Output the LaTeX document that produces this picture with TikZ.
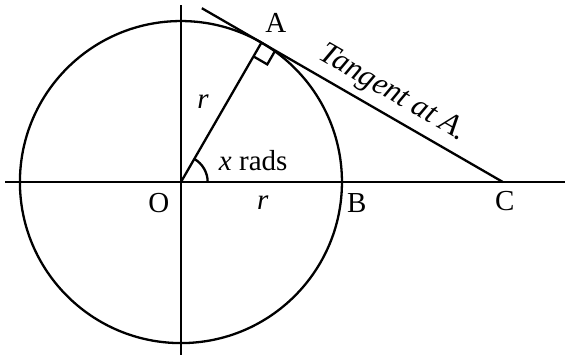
\documentclass[tikz,border=0pt]{standalone}
\usepackage{fontspec}
\setmainfont{Liberation Serif}
\usepackage{tikz}
\usetikzlibrary{calc}
\tikzset{
 geo line/.style={line width=1.15pt,draw=black},
 geo text/.style={font=\fontsize{14.5}{17}\selectfont},
}
\begin{document}
\begin{tikzpicture}[geo text]
\useasboundingbox (-3.18,-3.04) rectangle (6.75,3.20);
\coordinate (O) at (0,0);
\coordinate (A) at (60:2.83);
\coordinate (C) at (5.66,0);
\coordinate (west) at (-3.09,0);
\coordinate (east) at (6.75,0);
\coordinate (north) at (0,3.11);
\coordinate (south) at (0,-3.04);
\coordinate (top) at ($(A)!-1.21cm!(C)$);
\draw[geo line] (O) circle (2.83);
\draw[geo line] (west)--(east);
\draw[geo line] (north)--(south);
\draw[geo line] (O)--(A);
\draw[geo line] (top)--(C);
% right angle at A
\coordinate (p) at ($(A)!.28cm!(O)$);
\coordinate (q) at ($(A)!.28cm!(C)$);
\draw[geo line] (p)--($(p)+(q)-(A)$)--(q);
\draw[geo line] (.47,0) arc (0:60:.47);
\node (labA) at (1.67,2.79) {A};
\node (labO) at (-.39,-.37) {O};
\node (labB) at (3.09,-.37) {B};
\node (labC) at (5.69,-.34) {C};
\node (radOA) at (.39,1.41) {\textit{r}};
\node (radOB) at (1.44,-.37) {\textit{r}};
\node (angle) at (1.27,.37) {\textit{x} rads};
\node[rotate=-30,font=\fontsize{15.5}{18}\selectfont\itshape] (tangent)
 at (3.72,1.55) {Tangent at A.};
\end{tikzpicture}
\end{document}
